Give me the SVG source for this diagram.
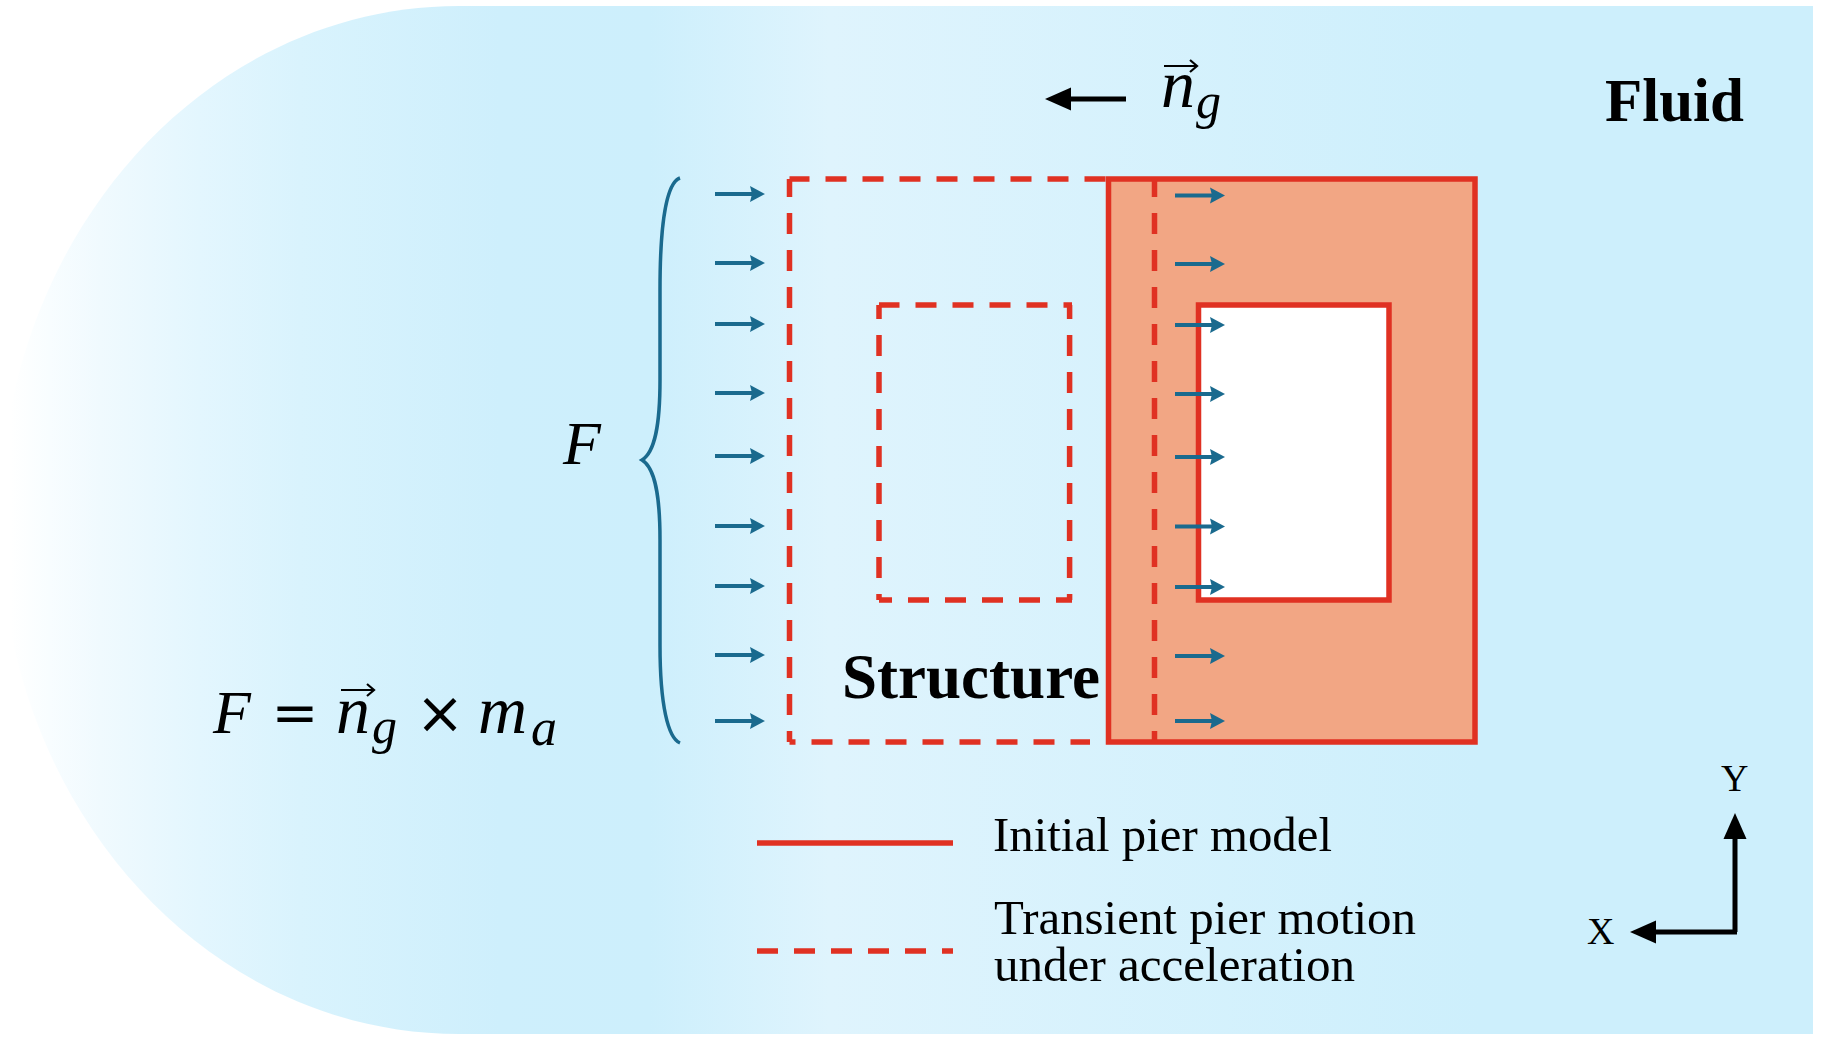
<svg xmlns="http://www.w3.org/2000/svg" xmlns:xlink="http://www.w3.org/1999/xlink" width="1822" height="1043" viewBox="0 0 1822 1043">
<style>
.red{fill:none;stroke:#E03122;stroke-width:5.5}
.dash{stroke-dasharray:21 16}
.flow{stroke:#1A6A8E;stroke-width:4;fill:none;marker-end:url(#blue)}
.blk{stroke:#000;stroke-width:5;fill:none;marker-end:url(#black)}
.m{font-family:"Liberation Serif",serif;font-style:italic;fill:#000}
.t{font-family:"Liberation Serif",serif;fill:#000}
.s{font-family:"DejaVu Sans",sans-serif;fill:#000;text-anchor:middle}
.b{font-family:"Liberation Serif",serif;font-weight:bold;fill:#000}
</style>
<defs>
<linearGradient id="bg" gradientUnits="userSpaceOnUse" x1="10" y1="0" x2="1813" y2="0">
<stop offset="0" stop-color="#FFFFFF"/>
<stop offset="0.022" stop-color="#F8FDFF"/>
<stop offset="0.05" stop-color="#F0FAFE"/>
<stop offset="0.105" stop-color="#E3F6FE"/>
<stop offset="0.161" stop-color="#D9F3FD"/>
<stop offset="0.272" stop-color="#CEEFFC"/>
<stop offset="0.355" stop-color="#CDEFFC"/>
<stop offset="0.455" stop-color="#DFF4FD"/>
<stop offset="0.815" stop-color="#CDEFFC"/>
<stop offset="1" stop-color="#CDEFFC"/>
</linearGradient>
<marker id="blue" markerUnits="userSpaceOnUse" markerWidth="18" markerHeight="18" refX="3" refY="9" orient="auto" overflow="visible">
<path d="M0 1L15 9L0 17L2 9Z" fill="#1A6A8E"/>
</marker>
<marker id="black" markerUnits="userSpaceOnUse" markerWidth="28" markerHeight="24" refX="2" refY="12" orient="auto" overflow="visible">
<path d="M0 0.500L26 12L0 23.500Z" fill="#000"/>
</marker>
<path id="vec" d="M0 0H32M26 -6L33 0L26 6" fill="none" stroke="#000" stroke-width="2.2"/>
</defs>

<g id="fluid">
<path d="M459 6H1813V1034H459C205 1034 0 804 0 520C0 236 205 6 459 6Z" fill="url(#bg)"/>
<text class="b" x="1605" y="121" font-size="62" textLength="139" lengthAdjust="spacingAndGlyphs">Fluid</text>
</g>

<g id="initial-pier">
<rect x="1108.5" y="179" width="366.5" height="563" class="red" style="fill:#F2A684"/>
<rect x="1198.5" y="305" width="190.5" height="295" class="red" style="fill:#FFFFFF"/>
</g>

<g id="transient-pier">
<path class="red dash" stroke-dashoffset="1" d="M789.500 179H1106"/>
<path class="red dash" stroke-dashoffset="3" d="M789.500 179V742"/>
<path class="red dash" stroke-dashoffset="15" d="M789.500 742H1090"/>
<path class="red dash" stroke-dashoffset="3" d="M1154.500 179V742"/>
<path class="red dash" stroke-dashoffset="7" d="M879 305V600"/>
<path class="red dash" stroke-dashoffset="7" d="M1069.600 305V600"/>
<path class="red dash" stroke-dashoffset="0.5" d="M879 305H1072"/>
<path class="red dash" stroke-dashoffset="8" d="M879 600H1072"/>
<text class="b" x="842" y="698" font-size="63" textLength="258" lengthAdjust="spacingAndGlyphs">Structure</text>
</g>

<g id="connectors">
<path class="flow" d="M715 194H753"/>
<path class="flow" d="M715 263H753"/>
<path class="flow" d="M715 324H753"/>
<path class="flow" d="M715 393H753"/>
<path class="flow" d="M715 456H753"/>
<path class="flow" d="M715 526H753"/>
<path class="flow" d="M715 586H753"/>
<path class="flow" d="M715 655H753"/>
<path class="flow" d="M715 721H753"/>
<path class="flow" d="M1175 195.500H1213"/>
<path class="flow" d="M1175 264H1213"/>
<path class="flow" d="M1175 325H1213"/>
<path class="flow" d="M1175 394H1213"/>
<path class="flow" d="M1175 457H1213"/>
<path class="flow" d="M1175 526.500H1213"/>
<path class="flow" d="M1175 587H1213"/>
<path class="flow" d="M1175 656H1213"/>
<path class="flow" d="M1175 721H1213"/>
<path class="blk" d="M1126 99H1069"/>
</g>

<g id="brace">
<path d="M680 178C668 182 660 215 660 290V380C660 425 655 452 642 460C655 468 660 495 660 540V645C660 705 668 738 680 743" fill="none" stroke="#1A6A8E" stroke-width="3.500"/>
<text class="m" x="563" y="464" font-size="62">F</text>
</g>

<g id="acceleration">
<text class="m" x="1161" y="107" font-size="68">n</text>
<use xlink:href="#vec" href="#vec" x="1164" y="66"/>
<text class="m" x="1196" y="118" font-size="50">g</text>
</g>

<g id="formula">
<text class="m" x="213" y="733" font-size="62">F</text>
<text class="s" x="295" y="732" font-size="56">=</text>
<text class="m" x="336" y="733" font-size="68">n</text>
<use xlink:href="#vec" href="#vec" x="341" y="690"/>
<text class="m" x="372" y="743" font-size="50">g</text>
<text class="s" x="440" y="733" font-size="58">×</text>
<text class="m" x="478" y="733" font-size="68">m</text>
<text class="m" x="531" y="745" font-size="52">a</text>
</g>

<g id="legend">
<path class="red" d="M757 843H953"/>
<path class="red dash" d="M757 951H953"/>
<text class="t" x="993" y="851" font-size="48" textLength="339" lengthAdjust="spacingAndGlyphs">Initial pier model</text>
<text class="t" x="994" y="934" font-size="48" textLength="422" lengthAdjust="spacingAndGlyphs">Transient pier motion</text>
<text class="t" x="994" y="981" font-size="48" textLength="361" lengthAdjust="spacingAndGlyphs">under acceleration</text>
</g>

<g id="axes">
<path class="blk" d="M1735 932V837"/>
<path class="blk" d="M1737 932H1654"/>
<text class="t" x="1721" y="791" font-size="38">Y</text>
<text class="t" x="1587" y="944" font-size="38">X</text>
</g>
</svg>
